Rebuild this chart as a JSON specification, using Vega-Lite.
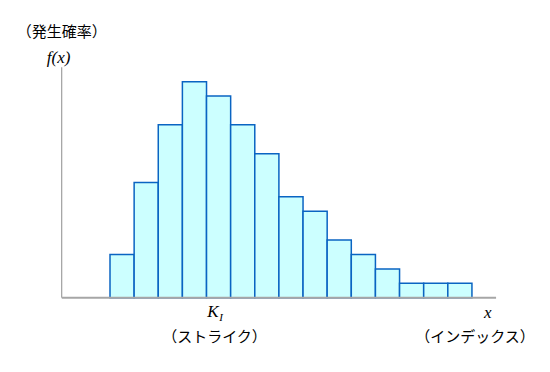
{
  "$schema": "https://vega.github.io/schema/vega-lite/v6.json",
  "width": 550,
  "height": 372,
  "autosize": "none",
  "padding": 0,
  "background": "white",
  "config": {"view": {"stroke": null}},
  "datasets": {
    "bins": [
      {"start": 0, "end": 1, "f": 3},
      {"start": 1, "end": 2, "f": 8},
      {"start": 2, "end": 3, "f": 12},
      {"start": 3, "end": 4, "f": 15},
      {"start": 4, "end": 5, "f": 14},
      {"start": 5, "end": 6, "f": 12},
      {"start": 6, "end": 7, "f": 10},
      {"start": 7, "end": 8, "f": 7},
      {"start": 8, "end": 9, "f": 6},
      {"start": 9, "end": 10, "f": 4},
      {"start": 10, "end": 11, "f": 3},
      {"start": 11, "end": 12, "f": 2},
      {"start": 12, "end": 13, "f": 1},
      {"start": 13, "end": 14, "f": 1},
      {"start": 14, "end": 15, "f": 1}
    ],
    "jp": [
      {"x": -2, "y": 18.45, "label": "（発生確率）"},
      {"x": 4.33, "y": -2.7, "label": "（ストライク）"},
      {"x": 15.13, "y": -2.7, "label": "（インデックス）"}
    ],
    "math": [
      {"x": -2.13, "y": 16.62, "label": "f(x)"},
      {"x": 4.27, "y": -0.97, "label": "K"},
      {"x": 15.66, "y": -1.05, "label": "x"}
    ],
    "sub": [
      {"x": 4.6, "y": -1.42, "label": "I"}
    ]
  },
  "layer": [
    {
      "data": {"values": [{"x": -2, "y": 0, "y2": 16}]},
      "mark": {"type": "rule", "color": "#8c8c8c", "strokeWidth": 1},
      "encoding": {
        "x": {"field": "x", "type": "quantitative", "scale": {"domain": [-4.559, 18.235], "nice": false, "zero": false}, "axis": null},
        "y": {"field": "y", "type": "quantitative", "scale": {"domain": [-5.16, 20.67], "nice": false, "zero": false}, "axis": null},
        "y2": {"field": "y2"}
      }
    },
    {
      "data": {"name": "bins"},
      "mark": {"type": "bar", "fill": "#ccffff", "stroke": "#0a64c2", "strokeWidth": 1.5},
      "encoding": {
        "x": {"field": "start", "type": "quantitative"},
        "x2": {"field": "end"},
        "y": {"field": "f", "type": "quantitative"},
        "y2": {"datum": 0}
      }
    },
    {
      "data": {"values": [{"x": -2, "x2": 16, "y": 0}]},
      "mark": {"type": "rule", "color": "#a6a6a6", "strokeWidth": 2},
      "encoding": {
        "x": {"field": "x", "type": "quantitative"},
        "x2": {"field": "x2"},
        "y": {"field": "y", "type": "quantitative"}
      }
    },
    {
      "data": {"name": "jp"},
      "mark": {"type": "text", "font": "Noto Sans CJK JP", "fontSize": 15, "color": "#000000", "align": "center", "baseline": "middle"},
      "encoding": {
        "x": {"field": "x", "type": "quantitative"},
        "y": {"field": "y", "type": "quantitative"},
        "text": {"field": "label"}
      }
    },
    {
      "data": {"name": "math"},
      "mark": {"type": "text", "font": "Liberation Serif", "fontStyle": "italic", "fontSize": 17, "color": "#000000", "align": "center", "baseline": "middle"},
      "encoding": {
        "x": {"field": "x", "type": "quantitative"},
        "y": {"field": "y", "type": "quantitative"},
        "text": {"field": "label"}
      }
    },
    {
      "data": {"name": "sub"},
      "mark": {"type": "text", "font": "Liberation Serif", "fontStyle": "italic", "fontSize": 11, "color": "#000000", "align": "center", "baseline": "middle"},
      "encoding": {
        "x": {"field": "x", "type": "quantitative"},
        "y": {"field": "y", "type": "quantitative"},
        "text": {"field": "label"}
      }
    }
  ]
}
